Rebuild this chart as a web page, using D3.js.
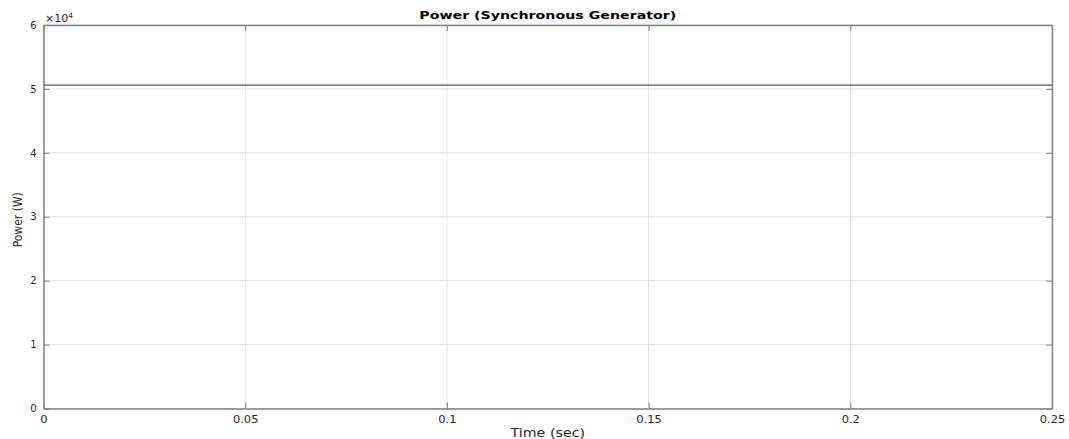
<!DOCTYPE html>
<html>
<head>
<meta charset="utf-8">
<script src="https://cdn.jsdelivr.net/npm/d3@7"></script>
<style>
  body { margin: 0; background: #fff; }
  text { font-family: "DejaVu Sans", sans-serif; fill: #262626; }
</style>
</head>
<body>
<svg id="chart"></svg>
<script>
// Data (power is flat over the whole run)
const timeSec = [0, 0.05, 0.1, 0.15, 0.2, 0.25];
const powerW = [50600, 50600, 50600, 50600, 50600, 50600];
const xTicks = [0, 0.05, 0.1, 0.15, 0.2, 0.25];
const xTickLabels = ["0", "0.05", "0.1", "0.15", "0.2", "0.25"];
const yTicks = [0, 10000, 20000, 30000, 40000, 50000, 60000];
const yTickLabels = ["0", "1", "2", "3", "4", "5", "6"];

const width = 1069, height = 439;
const margin = { top: 25, right: 17, bottom: 30.5, left: 43.5 };
const innerW = width - margin.left - margin.right;
const innerH = height - margin.top - margin.bottom;

const svg = d3.select("#chart").attr("width", width).attr("height", height);
const g = svg.append("g").attr("transform", `translate(${margin.left},${margin.top})`);

const x = d3.scaleLinear().domain([0, 0.25]).range([0, innerW]);
const y = d3.scaleLinear().domain([0, 60000]).range([innerH, 0]);

// grid
g.selectAll(".gx").data(xTicks).join("line")
  .attr("x1", d => x(d)).attr("x2", d => x(d))
  .attr("y1", 0).attr("y2", innerH)
  .attr("stroke", "#e3e3e3").attr("stroke-width", 1);
g.selectAll(".gy").data(yTicks).join("line")
  .attr("y1", d => y(d)).attr("y2", d => y(d))
  .attr("x1", 0).attr("x2", innerW)
  .attr("stroke", "#e3e3e3").attr("stroke-width", 1);

// the series
const line = d3.line().x((d, i) => x(timeSec[i])).y(d => y(d));
g.append("path").datum(powerW)
  .attr("d", line)
  .attr("fill", "none")
  .attr("stroke", "#555")
  .attr("stroke-width", 1.4);

// axes (ticks inside, box on all sides)
const axisColor = "#808080";
const fmtX = (d, i) => xTickLabels[i];
const fmtY = (d, i) => yTickLabels[i];

const axBottom = g.append("g").attr("transform", `translate(0,${innerH})`)
  .call(d3.axisBottom(x).tickValues(xTicks).tickFormat(fmtX).tickSizeInner(-6).tickSizeOuter(0).tickPadding(7.5));
const axTop = g.append("g")
  .call(d3.axisTop(x).tickValues(xTicks).tickFormat("").tickSizeInner(-6).tickSizeOuter(0));
const axLeft = g.append("g")
  .call(d3.axisLeft(y).tickValues(yTicks).tickFormat(fmtY).tickSizeInner(-6).tickSizeOuter(0).tickPadding(7));
const axRight = g.append("g").attr("transform", `translate(${innerW},0)`)
  .call(d3.axisRight(y).tickValues(yTicks).tickFormat("").tickSizeInner(-6).tickSizeOuter(0));

[axBottom, axTop, axLeft, axRight].forEach(a => {
  a.select(".domain").attr("stroke", axisColor).attr("stroke-width", 1.5);
  a.selectAll(".tick line").attr("stroke", axisColor).attr("stroke-width", 1);
  a.selectAll(".tick text").style("font-size", "10px").attr("fill", "#262626");
});
// the reference picture is a little stretched sideways
axBottom.selectAll(".tick text").attr("transform", "scale(1.15,1)");

// exponent marker
const expo = g.append("text").attr("x", 1.5).attr("y", -3).style("font-size", "11px");
expo.append("tspan").text("\u00d710");
expo.append("tspan").attr("dy", -4.5).style("font-size", "7.5px").text("4");

// title and labels
svg.append("text")
  .attr("transform", `translate(${margin.left + innerW / 2},19) scale(1.29,1)`)
  .attr("text-anchor", "middle")
  .style("font-size", "11px").style("font-weight", "bold")
  .style("fill", "#000")
  .text("Power (Synchronous Generator)");

svg.append("text")
  .attr("transform", `translate(${margin.left + innerW / 2},437) scale(1.19,1)`)
  .attr("text-anchor", "middle")
  .style("font-size", "12px")
  .text("Time (sec)");

svg.append("text")
  .attr("transform", `translate(22,${margin.top + innerH / 2 + 3}) rotate(-90)`)
  .attr("text-anchor", "middle")
  .style("font-family", "'DejaVu Sans Condensed', 'DejaVu Sans', sans-serif")
  .style("font-size", "12px")
  .text("Power (W)");
</script>
</body>
</html>
